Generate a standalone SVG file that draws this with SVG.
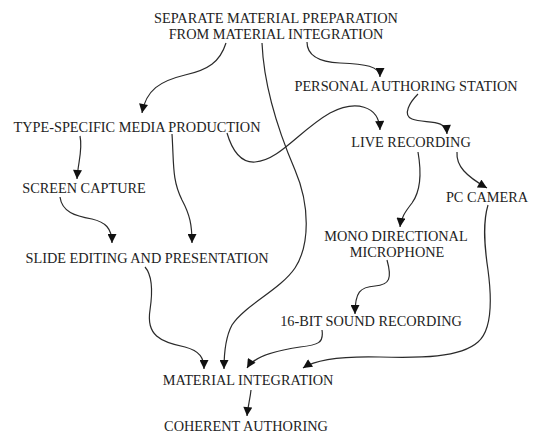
<svg xmlns="http://www.w3.org/2000/svg" width="533" height="433" viewBox="0 0 533 433">
<style>
text{font-family:"Liberation Serif","Times New Roman",serif;font-size:14.3px;fill:#222;text-anchor:middle}
.c path{fill:none;stroke:#2a2a2a;stroke-width:1.2;marker-end:url(#ah)}
</style>
<defs>
<marker id="ah" viewBox="0 0 10 10" refX="10" refY="5" markerWidth="10" markerHeight="9" markerUnits="userSpaceOnUse" orient="auto">
<path d="M0,0 L10,5 L0,10 z" fill="#111"/>
</marker>
</defs>
<rect width="533" height="433" fill="#fff"/>
<g class="c" id="connectors">
<path d="M226,43 C220,62 208,70 185,75 C160,81 146,90 142,113"/>
<path d="M262,43 C264,90 280,135 295,170 C310,205 310,245 295,268 C280,290 245,305 232,325 C225,338 224,355 224,369"/>
<path d="M307,42 C307,55 318,62 340,63 C365,64 380,66 380,77"/>
<path d="M418,94 C410,102 402,115 412,119 C425,124 446,118 447,134"/>
<path d="M227,133 C232,150 240,163 255,162 C280,160 300,130 330,113 C355,100 379,105 380,130"/>
<path d="M80,136 C83,150 78,162 77,179"/>
<path d="M172,134 C174,165 172,180 182,200 C190,215 192,225 192,243"/>
<path d="M60,197 C62,212 75,216 92,219 C105,222 112,228 112,243"/>
<path d="M457,152 C456,166 466,176 487,188"/>
<path d="M418,152 C422,175 420,192 412,203 C405,212 401,218 400,227"/>
<path d="M387,260 C392,278 390,285 375,286 C360,287 355,292 355,314"/>
<path d="M322,330 C324,343 318,345 300,347 C280,350 255,355 247,368"/>
<path d="M488,205 C482,225 485,250 488,270 C492,300 492,330 478,342 C460,358 420,358 380,357 C340,356 315,360 303,368"/>
<path d="M145,267 C152,275 153,290 150,310 C146,335 160,342 185,347 C200,351 204,358 204,369"/>
<path d="M251,390 C250,400 248,405 247,416"/>
</g>
<g id="n-separate"><text x="276" y="23">SEPARATE MATERIAL PREPARATION</text><text x="276" y="39">FROM MATERIAL INTEGRATION</text></g>
<g id="n-personal"><text x="406" y="91">PERSONAL AUTHORING STATION</text></g>
<g id="n-type"><text x="137" y="132">TYPE-SPECIFIC MEDIA PRODUCTION</text></g>
<g id="n-live"><text x="411" y="147">LIVE RECORDING</text></g>
<g id="n-screen"><text x="84" y="193">SCREEN CAPTURE</text></g>
<g id="n-pc"><text x="487" y="202">PC CAMERA</text></g>
<g id="n-slide"><text x="147" y="263">SLIDE EDITING AND PRESENTATION</text></g>
<g id="n-mono"><text x="396" y="241">MONO DIRECTIONAL</text><text x="397" y="257">MICROPHONE</text></g>
<g id="n-16bit"><text x="371" y="326">16-BIT SOUND RECORDING</text></g>
<g id="n-matint"><text x="248" y="385">MATERIAL INTEGRATION</text></g>
<g id="n-coherent"><text x="246" y="431">COHERENT AUTHORING</text></g>
</svg>
